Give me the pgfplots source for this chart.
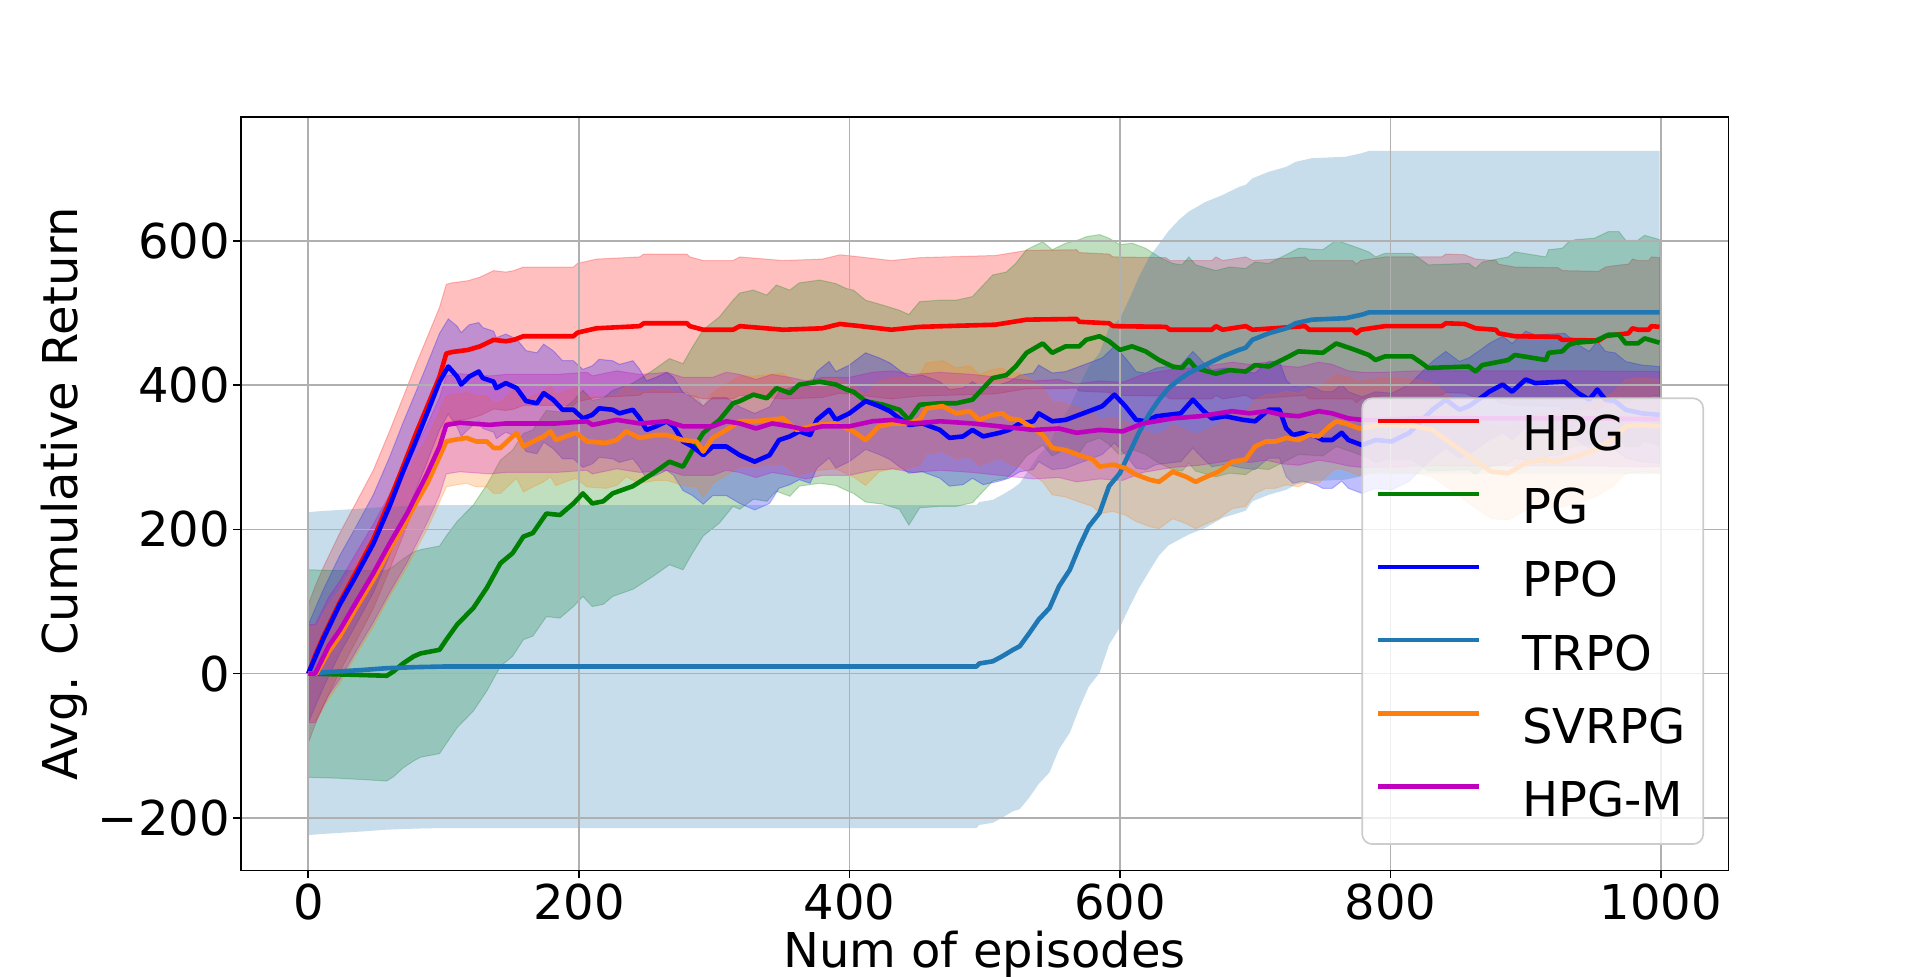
\documentclass[border=0pt]{standalone}
\usepackage{fontspec}
\setmainfont{DejaVu Sans}
\usepackage{pgfplots}
\pgfplotsset{compat=1.18}
\usepackage{pgfplotstable}
\usepgfplotslibrary{fillbetween}
\definecolor{cHPG}{HTML}{FF0000}
\definecolor{cPG}{HTML}{008000}
\definecolor{cPPO}{HTML}{0000FF}
\definecolor{cTRPO}{HTML}{1F77B4}
\definecolor{cSVRPG}{HTML}{FF7F0E}
\definecolor{cHPGM}{HTML}{BF00BF}
\definecolor{gridgray}{HTML}{B0B0B0}
\definecolor{leggray}{HTML}{CCCCCC}
\newcommand{\fsz}{\fontsize{24}{28.8}\selectfont}

% mean (m) and standard deviation (s)
\pgfplotstableread{
x m s
0 0 96
5 25 96
11 51 96
23 98 96
35 140 96
48 186 96
60 240 96
70 287 96
80 335 96
88 371 96
97 412 96
102 444 96
106 446 96
110 447 96
118 449 96
127 454 96
137 463 96
146 461 96
152 463 96
159 468 96
175 468 96
196 468 96
199 473 96
213 479 96
245 482 96
248 486 96
280 486 96
282 482 96
292 477 96
314 477 96
319 482 96
351 477 96
380 479 96
393 485 96
408 482 96
431 477 96
452 481 96
508 484 96
531 491 96
568 492 96
570 488 96
592 486 96
595 482 96
634 481 96
637 477 96
668 477 96
671 482 96
676 477 96
693 482 96
698 477 96
737 482 96
740 477 96
772 477 96
775 472 96
778 477 96
796 482 96
838 482 96
841 486 96
855 485 96
863 479 96
878 477 96
880 472 96
892 468 96
924 467 96
927 463 96
954 462 96
959 468 96
966 470 96
976 472 96
979 479 96
983 477 96
991 477 96
993 482 96
999 481 96
}\hpg

\pgfplotstableread{
x m s
0 0 144
20 -1 144
40 -2 145
58 -3 146
63 3 146
70 14 145
78 24 145
83 28 144
97 33 144
102 47 144
110 68 143
122 91 143
132 119 143
142 153 143
151 167 143
159 190 143
166 195 143
176 222 143
186 220 143
196 236 143
203 250 143
210 236 143
218 239 143
225 250 143
240 260 143
255 278 143
267 294 143
277 287 143
284 310 143
292 334 143
304 352 143
314 375 143
319 378 150
329 387 145
339 382 143
346 396 143
356 389 143
363 401 141
378 405 141
390 401 140
398 394 140
403 391 141
412 378 140
425 373 138
437 366 138
444 352 146
452 373 143
467 375 143
479 375 143
491 380 143
506 410 143
516 414 143
523 426 143
531 445 143
543 458 141
550 445 143
560 454 143
570 454 148
575 463 143
585 468 141
592 461 143
600 449 146
609 454 143
619 447 143
629 435 143
639 426 143
646 424 143
651 435 143
656 424 143
671 416 143
681 421 143
693 419 143
700 428 143
710 426 143
725 440 143
732 447 143
750 445 143
760 458 143
774 449 143
784 442 143
789 435 143
796 440 143
816 440 143
823 431 143
828 424 143
858 426 143
863 419 143
868 428 143
887 435 143
892 442 143
915 435 143
917 445 143
927 447 143
932 456 143
937 459 143
951 461 143
961 470 143
969 470 143
974 458 143
983 458 143
988 465 143
999 459 143
}\pg

\pgfplotstableread{
x m s
0 0 68
5 22 68
11 48 68
23 95 68
35 135 68
48 180 68
60 232 68
70 280 68
80 325 68
88 362 68
97 405 67
103.5 426 66
110 412 70
113 401 72
119 412 72
126 419 68
129 410 70
137 405 70
139 396 70
146 403 68
154 396 68
161 378 70
169 375 70
174 389 68
181 380 68
188 366 68
196 366 68
203 354 68
210 359 68
215 368 68
225 366 68
230 361 68
240 366 68
245 354 68
250 338 68
257 343 68
265 350 68
270 343 68
277 322 68
284 315 68
292 303 68
299 315 68
309 315 68
319 303 67
330 294 67
341 303 67
348 324 67
356 329 67
363 336 67
371 331 67
376 352 67
385 366 67
390 352 67
400 361 67
412 378 67
422 371 67
430 364 67
437 354 67
444 345 67
454 347 67
467 338 67
474 327 67
484 329 67
491 338 67
499 329 67
511 334 67
518 338 67
526 347 67
536 350 67
540 361 67
550 350 67
560 352 67
570 359 67
580 366 67
587 371 67
596 387 67
604 371 67
612 352 67
619 350 67
627 357 67
636 359 67
645 361 67
654 380 67
661 366 67
668 354 67
678 357 67
691 352 67
700 350 67
710 366 67
718 366 67
723 340 67
728 331 67
735 334 67
745 329 67
750 324 67
757 324 67
764 334 67
769 324 67
779 317 67
789 324 67
801 322 67
814 334 67
821 347 67
831 366 67
841 380 67
851 366 67
858 371 67
868 384 67
873 391 67
883 401 67
890 391 67
900 408 67
907 403 67
929 405 67
939 389 67
947 380 67
953 394 67
959 380 67
966 378 67
974 366 67
986 361 67
999 359 67
}\ppo

\pgfplotstableread{
x m s
0 0 224
10 1.5 224
23 3 224
40 5 224
58 7.5 224
80 9 224
100 9.8 224
200 9.8 224
300 9.8 224
400 9.8 224
494 9.8 224
496 14 224
506 17 224
513 24 224
521 33 224
526 38 226
533 56 228
540 75 228
548 91 228
555 121 226
563 144 226
570 176 224
577 204 222
585 223 222
592 260 220
600 278 214
607 306 214
614 334 216
622 361 218
629 380 216
636 396 218
644 408 222
651 417 224
663 428 226
676 440 224
688 449 226
693 452 226
698 463 224
710 472 224
723 479 224
730 486 224
742 491 224
767 493 224
779 498 224
784 501 224
999 501 224
}\trpo

\pgfplotstableread{
x m s
0 0 65
6 0 65
15 30 65
23 51 65
35 90 65
48 130 65
60 172 65
73 213 65
80 238 65
88 264 63
97 301 63
102 322 63
107 324 63
117 327 63
124 322 63
132 322 63
137 313 63
142 313 63
147 322 63
154 334 63
159 315 63
166 322 63
174 329 63
179 336 63
183 324 63
193 331 63
198 334 63
206 322 63
220 320 63
228 324 63
235 336 63
245 327 63
257 331 63
265 331 63
277 324 63
287 322 63
292 308 63
299 327 63
309 338 63
319 350 63
330 350 63
341 352 63
351 354 63
361 338 63
376 345 63
390 347 63
403 336 63
412 324 63
422 343 63
432 347 63
442 347 63
452 352 63
457 368 63
469 371 63
479 361 63
489 364 63
496 352 63
506 359 63
513 361 63
518 354 63
526 352 65
536 340 65
543 331 65
550 313 65
560 310 65
570 303 65
580 297 65
585 287 65
595 290 65
604 285 65
612 276 65
622 269 65
629 266 65
639 280 65
649 273 65
656 266 65
664 273 65
673 280 65
683 294 65
693 297 65
700 315 65
708 322 65
715 322 65
723 327 65
732 324 65
740 331 65
747 329 65
755 343 65
760 350 65
767 347 65
777 340 65
794 345 65
819 343 65
831 338 65
843 322 65
855 306 65
865 292 65
875 280 65
887 278 65
900 292 65
912 297 65
922 294 65
937 301 65
951 310 65
964 324 65
974 343 65
986 345 65
999 343 65
}\svrpg

\pgfplotstableread{
x m s
0 0 68
5 0 68
15 38 68
23.5 61 68
35 98 68
48 139 68
60 180 68
73 222 68
80 248 68
88 278 68
97 315 68
102 345 68
112 348 68
134 345 68
146 347 68
161 347 68
183 347 68
206 350 68
210 345 68
228 352 68
245 347 68
265 350 68
277 343 68
299 343 68
309 350 68
319 347 68
331 340 68
343 347 68
356 343 68
368 338 68
380 343 68
400 343 68
417 350 68
432 352 68
447 347 68
467 350 68
491 347 68
511 343 68
536 338 68
555 340 68
568 334 68
585 338 68
602 336 68
617 347 68
639 354 68
659 357 68
683 364 68
696 361 68
708 364 68
720 359 68
732 357 68
747 364 68
757 361 68
769 354 66
779 352 66
794 352 66
819 354 66
843 354 66
892 354 66
942 354 66
999 353 66
}\hpgm

\begin{document}
\begin{tikzpicture}
\begin{axis}[
  set layers,
  scale only axis,
  width=743.9pt, height=376.65pt,
  xmin=-50, xmax=1050, ymin=-273, ymax=772,
  xtick={0,200,400,600,800,1000},
  xticklabels={0,200,400,600,800,1000},
  ytick={-200,0,200,400,600},
  yticklabels={−200,0,200,400,600},
  xtick pos=bottom, ytick pos=left,
  tick align=outside,
  major tick length=3.65pt,
  every tick/.style={black, line width=0.83pt},
  axis line style={line width=0.83pt},
  grid=major,
  major grid style={color=gridgray, line width=0.83pt},
  tick label style={font=\fsz},
  xticklabel style={anchor=north, inner sep=0pt},
  yticklabel style={anchor=east, inner sep=0pt},
  xticklabel shift=3.0pt,
  yticklabel shift=1.6pt,
  label style={font=\fsz},
  xlabel={Num of episodes},
  ylabel={Avg. Cumulative Return},
  xlabel style={at={(axis description cs:0.5,-0.1290)}, anchor=base, inner sep=0pt},
  ylabel style={at={(axis description cs:-0.10942,0.5)}, anchor=base, inner sep=0pt},
  legend cell align=left,
  legend image code/.code={\draw[#1] (0pt,8.75pt) -- (50.3pt,8.75pt);},
  legend style={
    at={(axis description cs:1,0)}, anchor=south east,
    xshift=-12.25pt, yshift=12.75pt,
    draw=leggray, line width=0.83pt, rounded corners=5pt,
    fill=white, fill opacity=0.8, draw opacity=1, text opacity=1,
    font=\fsz,
    inner xsep=7pt, inner ysep=6.5pt,
    row sep=9.2pt,
    nodes={text depth=5.5pt},
    /tikz/every odd column/.append style={column sep=18.5pt},
  },
]
% ---- bands (mean +/- std) ----
\addplot[name path=hpgU, draw=none, forget plot] table[x=x, y expr=\thisrow{m}+\thisrow{s}]{\hpg};
\addplot[name path=hpgL, draw=none, forget plot] table[x=x, y expr=\thisrow{m}-\thisrow{s}]{\hpg};
\addplot[fill=cHPG, fill opacity=0.25, draw=cHPG, draw opacity=0.25, line width=0.5pt, forget plot] fill between[of=hpgU and hpgL, on layer=axis background];

\addplot[name path=pgU, draw=none, forget plot] table[x=x, y expr=\thisrow{m}+\thisrow{s}]{\pg};
\addplot[name path=pgL, draw=none, forget plot] table[x=x, y expr=\thisrow{m}-\thisrow{s}]{\pg};
\addplot[fill=cPG, fill opacity=0.25, draw=cPG, draw opacity=0.25, line width=0.5pt, forget plot] fill between[of=pgU and pgL, on layer=axis background];

\addplot[name path=ppoU, draw=none, forget plot] table[x=x, y expr=\thisrow{m}+\thisrow{s}]{\ppo};
\addplot[name path=ppoL, draw=none, forget plot] table[x=x, y expr=\thisrow{m}-\thisrow{s}]{\ppo};
\addplot[fill=cPPO, fill opacity=0.25, draw=cPPO, draw opacity=0.25, line width=0.5pt, forget plot] fill between[of=ppoU and ppoL, on layer=axis background];

\addplot[name path=trpoU, draw=none, forget plot] table[x=x, y expr=\thisrow{m}+\thisrow{s}]{\trpo};
\addplot[name path=trpoL, draw=none, forget plot] table[x=x, y expr=\thisrow{m}-\thisrow{s}]{\trpo};
\addplot[fill=cTRPO, fill opacity=0.25, draw=none, forget plot] fill between[of=trpoU and trpoL, on layer=axis background];

\addplot[name path=svU, draw=none, forget plot] table[x=x, y expr=\thisrow{m}+\thisrow{s}]{\svrpg};
\addplot[name path=svL, draw=none, forget plot] table[x=x, y expr=\thisrow{m}-\thisrow{s}]{\svrpg};
\addplot[fill=cSVRPG, fill opacity=0.25, draw=cSVRPG, draw opacity=0.25, line width=0.5pt, forget plot] fill between[of=svU and svL, on layer=axis background];

\addplot[name path=hmU, draw=none, forget plot] table[x=x, y expr=\thisrow{m}+\thisrow{s}]{\hpgm};
\addplot[name path=hmL, draw=none, forget plot] table[x=x, y expr=\thisrow{m}-\thisrow{s}]{\hpgm};
\addplot[fill=cHPGM, fill opacity=0.25, draw=cHPGM, draw opacity=0.25, line width=0.5pt, forget plot] fill between[of=hmU and hmL, on layer=axis background];

% ---- mean curves ----
\addplot[cHPG, line width=2.3pt, line join=round] table[x=x, y=m]{\hpg};
\addlegendentry{HPG}
\addplot[cPG, line width=2.3pt, line join=round] table[x=x, y=m]{\pg};
\addlegendentry{PG}
\addplot[cPPO, line width=2.3pt, line join=round] table[x=x, y=m]{\ppo};
\addlegendentry{PPO}
\addplot[cTRPO, line width=2.3pt, line join=round] table[x=x, y=m]{\trpo};
\addlegendentry{TRPO}
\addplot[cSVRPG, line width=2.3pt, line join=round] table[x=x, y=m]{\svrpg};
\addlegendentry{SVRPG}
\addplot[cHPGM, line width=2.3pt, line join=round] table[x=x, y=m]{\hpgm};
\addlegendentry{HPG-M}
\end{axis}
\pgfresetboundingbox
\path[use as bounding box] (-120.35pt,-53.3pt) rectangle (839.65pt,435.2pt);
\end{tikzpicture}
\end{document}
